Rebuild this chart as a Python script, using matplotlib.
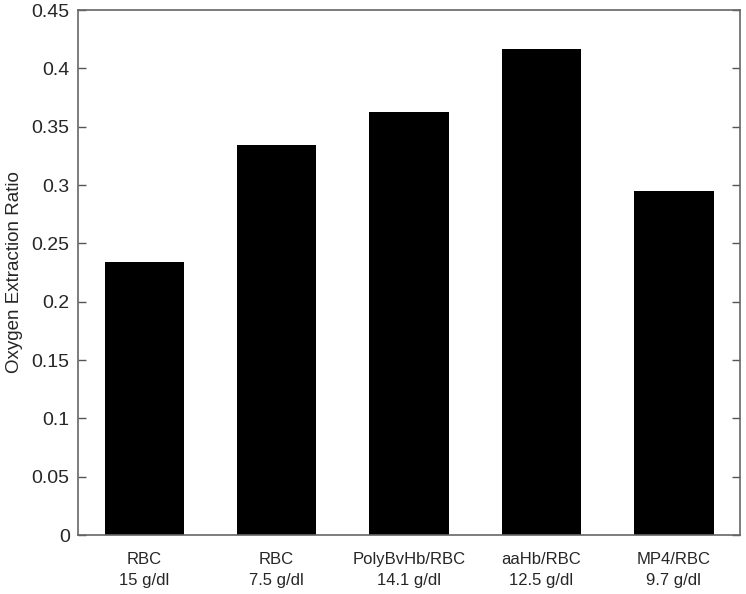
import matplotlib.pyplot as plt

groups = ['RBC', 'RBC', 'PolyBvHb/RBC', 'aaHb/RBC', 'MP4/RBC']
concentrations = ['15 g/dl', '7.5 g/dl', '14.1 g/dl', '12.5 g/dl', '9.7 g/dl']
oxygen_extraction = [0.234, 0.334, 0.363, 0.417, 0.295]

plt.rcParams['font.family'] = ['Liberation Sans', 'DejaVu Sans']

fig = plt.figure(figsize=(7.46, 5.94), dpi=100)
ax = fig.add_axes([0.1046, 0.0993, 0.8874, 0.8837])

positions = range(1, len(groups) + 1)
ax.bar(positions, oxygen_extraction, width=0.6, color='black')

ax.set_xlim(0.5, 5.5)
ax.set_ylim(0, 0.45)
ax.set_yticks([i * 0.05 for i in range(10)])
ax.set_yticklabels(['0', '0.05', '0.1', '0.15', '0.2', '0.25', '0.3', '0.35', '0.4', '0.45'])
ax.set_xticks(list(positions))
ax.set_xticklabels([f'{g}\n{c}' for g, c in zip(groups, concentrations)],
                   fontsize=12, color='#262626', linespacing=1.55)
ax.tick_params(axis='x', length=0, pad=12)
ax.tick_params(axis='y', direction='in', right=True, length=6, width=1,
               color='#555555', labelsize=14, labelcolor='#262626', pad=6)
for spine in ax.spines.values():
    spine.set_color('#666666')
    spine.set_linewidth(1.2)

ax.set_ylabel('Oxygen Extraction Ratio', fontsize=13.5, color='#262626', labelpad=6)

fig.savefig('out.png', dpi=100)
